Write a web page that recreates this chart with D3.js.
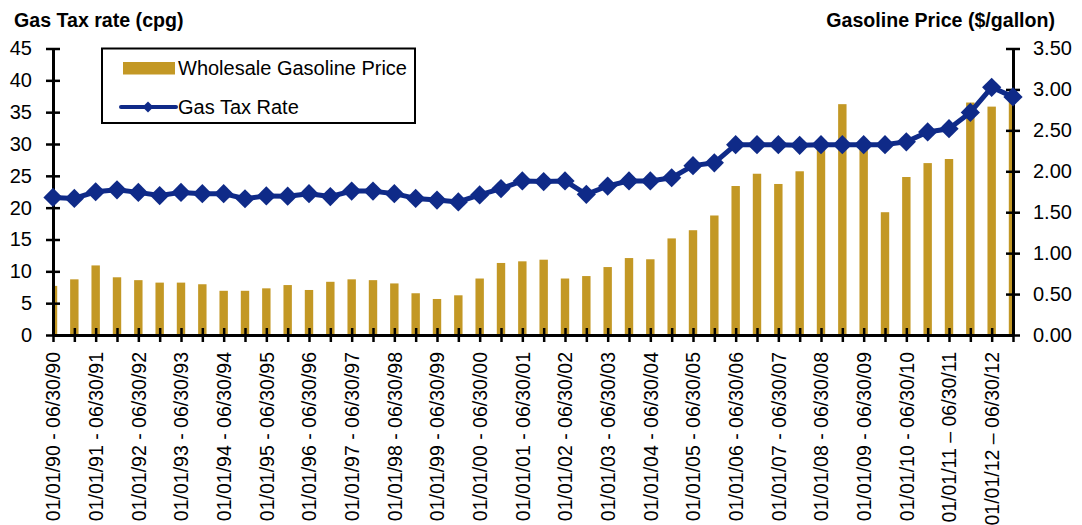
<!DOCTYPE html>
<html>
<head>
<meta charset="utf-8">
<script src="https://cdn.jsdelivr.net/npm/d3@7"></script>
<style>
  body { margin: 0; background: #fff; }
  svg text { font-family: "Liberation Sans", Arial, sans-serif; fill: #000; }
</style>
</head>
<body>
<div id="chart"></div>
<script>
// half-year periods, Jan 1990 .. Dec 2012
const periods = [
  "01/01/90 - 06/30/90", "07/01/90 - 12/31/90",
  "01/01/91 - 06/30/91", "07/01/91 - 12/31/91",
  "01/01/92 - 06/30/92", "07/01/92 - 12/31/92",
  "01/01/93 - 06/30/93", "07/01/93 - 12/31/93",
  "01/01/94 - 06/30/94", "07/01/94 - 12/31/94",
  "01/01/95 - 06/30/95", "07/01/95 - 12/31/95",
  "01/01/96 - 06/30/96", "07/01/96 - 12/31/96",
  "01/01/97 - 06/30/97", "07/01/97 - 12/31/97",
  "01/01/98 - 06/30/98", "07/01/98 - 12/31/98",
  "01/01/99 - 06/30/99", "07/01/99 - 12/31/99",
  "01/01/00 - 06/30/00", "07/01/00 - 12/31/00",
  "01/01/01 - 06/30/01", "07/01/01 - 12/31/01",
  "01/01/02 - 06/30/02", "07/01/02 - 12/31/02",
  "01/01/03 - 06/30/03", "07/01/03 - 12/31/03",
  "01/01/04 - 06/30/04", "07/01/04 - 12/31/04",
  "01/01/05 - 06/30/05", "07/01/05 - 12/31/05",
  "01/01/06 - 06/30/06", "07/01/06 - 12/31/06",
  "01/01/07 - 06/30/07", "07/01/07 - 12/31/07",
  "01/01/08 - 06/30/08", "07/01/08 - 12/31/08",
  "01/01/09 - 06/30/09", "07/01/09 - 12/31/09",
  "01/01/10 - 06/30/10", "07/01/10 - 12/31/10",
  "01/01/11 \u2013 06/30/11", "07/01/11 \u2013 12/31/11",
  "01/01/12 \u2013 06/30/12", "07/01/12 \u2013 12/31/12"
];

// gas tax rate, cents per gallon (left axis)
const taxRate = [
  21.6, 21.45, 22.5, 22.8, 22.4, 21.9, 22.4, 22.2, 22.2, 21.4,
  21.85, 21.8, 22.2, 21.75, 22.6, 22.6, 22.2, 21.45, 21.2, 20.9,
  22.0, 23.0, 24.2, 24.1, 24.2, 22.1, 23.4, 24.2, 24.2, 24.7,
  26.6, 27.05, 29.9, 29.9, 29.9, 29.8, 29.9, 29.9, 29.9, 29.9,
  30.35, 31.9, 32.4, 34.95, 38.9, 37.4
];

// wholesale gasoline price, $/gallon (right axis)
const gasPrice = [
  0.60, 0.68, 0.85, 0.705, 0.67, 0.64, 0.64, 0.62, 0.54, 0.54,
  0.57, 0.61, 0.55, 0.65, 0.68, 0.67, 0.63, 0.51, 0.44, 0.485,
  0.69, 0.88, 0.90, 0.92, 0.69, 0.72, 0.83, 0.94, 0.925, 1.18,
  1.28, 1.46, 1.82, 1.97, 1.845, 2.00, 2.33, 2.82, 2.28, 1.50,
  1.93, 2.10, 2.15, 2.84, 2.79, 2.87
];

const leftTicks = [0, 5, 10, 15, 20, 25, 30, 35, 40, 45];
const rightTicks = [0, 0.5, 1, 1.5, 2, 2.5, 3, 3.5];

const width = 1082, height = 525;
const margin = { top: 48.5, left: 53, right: 69, bottom: 190 };
const barColor = "#c39825";
const lineColor = "#0f2a88";

const svg = d3.select("#chart").append("svg")
  .attr("width", width)
  .attr("height", height);

const xScale = d3.scalePoint()
  .domain(d3.range(periods.length))
  .range([margin.left, width - margin.right]);

const yLeft = d3.scaleLinear()
  .domain([0, 45])
  .range([height - margin.bottom, margin.top]);

const yRight = d3.scaleLinear()
  .domain([0, 3.5])
  .range([height - margin.bottom, margin.top]);

// bars are clipped by the two y axes
svg.append("clipPath").attr("id", "plot-clip")
  .append("rect")
  .attr("x", margin.left)
  .attr("y", 0)
  .attr("width", width - margin.right - margin.left)
  .attr("height", height - margin.bottom);

const barW = 8.4;
svg.append("g")
  .attr("clip-path", "url(#plot-clip)")
  .selectAll("rect")
  .data(gasPrice)
  .join("rect")
  .attr("x", (d, i) => xScale(i) - barW / 2)
  .attr("y", d => yRight(d))
  .attr("width", barW)
  .attr("height", d => yRight(0) - yRight(d))
  .attr("fill", barColor);

// axes
function styleAxis(g) {
  g.select(".domain").attr("stroke", "#000").attr("stroke-width", 3);
  g.selectAll(".tick line").attr("stroke", "#000").attr("stroke-width", 2.5);
  g.selectAll(".tick text").attr("font-size", 20).attr("fill", "#000");
}

const xAxis = svg.append("g")
  .attr("transform", `translate(0,${yLeft(0)})`)
  .call(d3.axisBottom(xScale)
    .tickSize(7)
    .tickSizeOuter(0)
    .tickFormat(i => i % 2 === 0 ? periods[i] : ""))
  .call(styleAxis);
xAxis.selectAll(".tick line").attr("y1", -7);
xAxis.selectAll(".tick text")
  .attr("transform", "rotate(-90)")
  .attr("text-anchor", "end")
  .attr("x", -17)
  .attr("y", 0)
  .attr("dy", "0.35em")
  .attr("font-size", 19.5);

const leftAxis = svg.append("g")
  .attr("transform", `translate(${margin.left},0)`)
  .call(d3.axisLeft(yLeft)
    .tickValues(leftTicks)
    .tickSize(7)
    .tickSizeOuter(0)
    .tickPadding(14))
  .call(styleAxis);
leftAxis.selectAll(".tick line").attr("x1", 7);

const rightAxis = svg.append("g")
  .attr("transform", `translate(${width - margin.right},0)`)
  .call(d3.axisRight(yRight)
    .tickValues(rightTicks)
    .tickFormat(d3.format(".2f"))
    .tickSize(7)
    .tickSizeOuter(0)
    .tickPadding(13))
  .call(styleAxis);
rightAxis.selectAll(".tick line").attr("x1", -7);

// tax rate line with diamond markers
const line = d3.line()
  .x((d, i) => xScale(i))
  .y(d => yLeft(d));

svg.append("path")
  .datum(taxRate)
  .attr("fill", "none")
  .attr("stroke", lineColor)
  .attr("stroke-width", 5)
  .attr("stroke-linejoin", "round")
  .attr("d", line);

const diamond = d3.symbol(d3.symbolSquare, 185);
svg.append("g")
  .selectAll("path")
  .data(taxRate)
  .join("path")
  .attr("d", diamond)
  .attr("transform", (d, i) => `translate(${xScale(i)},${yLeft(d)}) rotate(45)`)
  .attr("fill", lineColor);

// axis titles
svg.append("text")
  .attr("x", 14)
  .attr("y", 27)
  .attr("font-size", 19.6)
  .attr("font-weight", "bold")
  .text("Gas Tax rate (cpg)");

svg.append("text")
  .attr("x", 1055)
  .attr("y", 27)
  .attr("text-anchor", "end")
  .attr("font-size", 19.6)
  .attr("font-weight", "bold")
  .text("Gasoline Price ($/gallon)");

// legend
const legend = svg.append("g");
legend.append("rect")
  .attr("x", 102)
  .attr("y", 48.5)
  .attr("width", 313)
  .attr("height", 74.5)
  .attr("fill", "#fff")
  .attr("stroke", "#000")
  .attr("stroke-width", 2);

legend.append("rect")
  .attr("x", 123)
  .attr("y", 62)
  .attr("width", 52)
  .attr("height", 12.5)
  .attr("fill", barColor);

legend.append("text")
  .attr("x", 178)
  .attr("y", 68)
  .attr("dy", "0.35em")
  .attr("font-size", 20)
  .text("Wholesale Gasoline Price");

legend.append("line")
  .attr("x1", 121)
  .attr("x2", 176)
  .attr("y1", 107)
  .attr("y2", 107)
  .attr("stroke", lineColor)
  .attr("stroke-width", 4)
  .attr("stroke-linecap", "round");

legend.append("path")
  .attr("d", d3.symbol(d3.symbolSquare, 60))
  .attr("transform", "translate(148,107) rotate(45)")
  .attr("fill", lineColor);

legend.append("text")
  .attr("x", 178)
  .attr("y", 107)
  .attr("dy", "0.35em")
  .attr("font-size", 20)
  .text("Gas Tax Rate");
</script>
</body>
</html>
